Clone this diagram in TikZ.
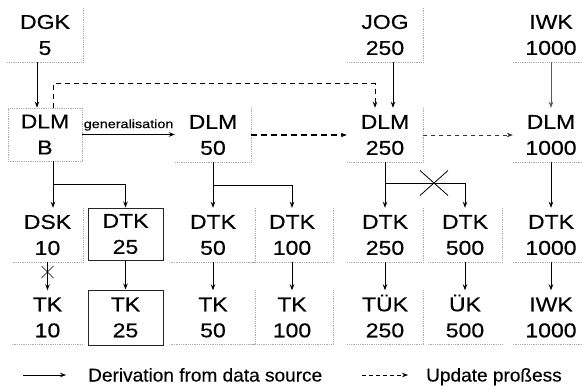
\documentclass[tikz,border=0pt]{standalone}
\usepackage{fontspec}
\setmainfont{Liberation Sans}
\newfontfamily\boxfont[FakeStretch=1.15,FakeBold=0.4]{Liberation Sans}
\newfontfamily\legfont[FakeStretch=1.03,FakeBold=0.3]{Liberation Sans}
\newfontfamily\genfont[FakeStretch=1.2,FakeBold=0.4]{Liberation Sans}
\usetikzlibrary{arrows.meta,calc}
\tikzset{
  cell/.style={minimum width=#1, minimum height=54pt, inner sep=0pt, align=center,
    font=\boxfont\fontsize{20pt}{26pt}\selectfont},
  bord/.style={draw=gray!65, line width=0.8pt, densely dotted},
  solidbox/.style={draw=black!85, line width=1pt},
  ln/.style={line width=0.9pt, draw=black},
  arr/.style={ln, -{Stealth[length=6pt,width=4.5pt]}},
  upd/.style={arr, dash pattern=on 5pt off 4pt},
  thickupd/.style={arr, line width=1.6pt, dash pattern=on 6pt off 4pt},
  thinupd/.style={arr, line width=0.7pt, draw=black!80, dash pattern=on 4pt off 4pt},
  lightarr/.style={arr, line width=0.6pt, draw=gray!70!black},
  cross/.style={line width=0.8pt, draw=black},
  legtext/.style={font=\legfont\fontsize{18.5pt}{22pt}\selectfont, inner sep=0pt},
}
\newcommand\rbord[1]{\draw[bord] (#1.north east) -- (#1.south east) -- (#1.south west);}
\newcommand\bbord[1]{\draw[bord] (#1.south west) -- (#1.south east);}
\begin{document}
\begin{tikzpicture}[x=1pt,y=-1pt]
\fill[white] (0,0) rectangle (582,386);
\useasboundingbox (0,0) rectangle (582,386);

% Row 1
\node[cell=76] (dgk) at (45,35) {DGK\\5};
\node[cell=76] (jog) at (385,35) {JOG\\250};
\node[cell=76] (iwka) at (551,35) {IWK\\1000};
\rbord{dgk}\rbord{jog}\bbord{iwka}

% Row 2
\node[cell=74, minimum height=53pt, bord] (dlmb) at (45,134.5) {DLM\\B};
\node[cell=76] (dlm50) at (213,135) {DLM\\50};
\node[cell=76] (dlm250) at (385,135) {DLM\\250};
\node[cell=76] (dlm1000) at (551,135) {DLM\\1000};
\rbord{dlm50}\rbord{dlm250}\bbord{dlm1000}

% Row 3
\node[cell=71] (dsk) at (47.5,235) {DSK\\10};
\node[cell=75, minimum height=52pt, solidbox] (dtk25) at (125.5,234) {DTK\\25};
\node[cell=84] (dtk50) at (213,235) {DTK\\50};
\node[cell=82] (dtk100) at (292,235) {DTK\\100};
\node[cell=76] (dtk250) at (385,235) {DTK\\250};
\node[cell=74] (dtk500) at (465,235) {DTK\\500};
\node[cell=76] (dtk1000) at (551,235) {DTK\\1000};
\rbord{dsk}\rbord{dtk50}\rbord{dtk100}\rbord{dtk250}\rbord{dtk500}\bbord{dtk1000}

% Row 4
\node[cell=71] (tk10) at (47.5,317.5) {TK\\10};
\node[cell=75, minimum height=55pt, solidbox] (tk25) at (125.5,317.5) {TK\\25};
\node[cell=84] (tk50) at (213,317.5) {TK\\50};
\node[cell=82] (tk100) at (292,317.5) {TK\\100};
\node[cell=76] (tuk) at (385,317.5) {T\smash{Ü}K\\250};
\node[cell=74] (uk) at (465,317.5) {\smash{Ü}K\\500};
\node[cell=76] (iwkb) at (551,317.5) {IWK\\1000};
\bbord{tk10}\rbord{tk50}\rbord{tk100}\rbord{tuk}\bbord{uk}\bbord{iwkb}

% Row 1 -> Row 2
\draw[arr] ([xshift=-8pt]dgk.south) -- ([xshift=-8pt]dlmb.north);
\draw[arr] ([xshift=8pt]jog.south) -- ([xshift=8pt]dlm250.north);
\draw[lightarr] (iwka.south) -- (dlm1000.north);

% update from DLM B to DLM 250
\draw[upd] ([xshift=8pt]dlmb.north) -- ++(0,-24) -| ([xshift=-10pt]dlm250.north);

% Row 2 horizontal
\draw[arr] (dlmb.east) -- node[anchor=south, inner sep=3.5pt, font=\genfont\fontsize{12pt}{14pt}\selectfont] (genl) {generalisation} (dlmb.east -| dlm50.west);
\draw[thickupd] (dlm50.east) -- (dlm250.west);
\draw[thinupd] (dlm250.east) -- (dlm1000.west);

% Row 2 -> Row 3
\coordinate (bB) at ([xshift=8pt,yshift=-23.5pt]dlmb.south);
\draw[arr] ([xshift=8pt]dlmb.south) -- ([xshift=8pt]dlmb.south |- dsk.north);
\draw[arr] (bB) -| (dtk25.north);
\coordinate (b50) at ([yshift=-23pt]dlm50.south);
\draw[arr] (dlm50.south) -- (dtk50.north);
\draw[arr] (b50) -| (dtk100.north);
\coordinate (b250) at ([yshift=-21pt]dlm250.south);
\draw[arr] (dlm250.south) -- (dtk250.north);
\draw[arr] (b250) -| (dtk500.north);
\coordinate (xm) at (434,183);
\draw[cross] ($(xm)+(-14,-12.5)$) -- ($(xm)+(14,12.5)$);
\draw[cross] ($(xm)+(-14,12.5)$) -- ($(xm)+(14,-12.5)$);
\draw[arr] (dlm1000.south) -- (dtk1000.north);

% Row 3 -> Row 4
\draw[arr] (dsk.south) -- (tk10.north);
\coordinate (xs) at ($(dsk.south)!0.35!(tk10.north)$);
\draw[cross, line width=0.6pt] ($(xs)+(-6,-6)$) -- ($(xs)+(6,6)$);
\draw[cross, line width=0.6pt] ($(xs)+(-6,6)$) -- ($(xs)+(6,-6)$);
\draw[arr] (dtk25.south) -- (tk25.north);
\draw[arr] (dtk50.south) -- (tk50.north);
\draw[arr] (dtk100.south) -- (tk100.north);
\draw[arr] (dtk250.south) -- (tuk.north);
\draw[arr] (dtk500.south) -- (uk.north);
\draw[arr] (dtk1000.south) -- (iwkb.north);

% Legend
\coordinate (l1a) at (23,375);
\coordinate (l1b) at (66,375);
\draw[arr, line width=0.7pt] (l1a) -- (l1b);
\node[legtext, anchor=base west] (l1t) at (88,381.5) {Derivation from data source};
\coordinate (l2a) at (362,375);
\coordinate (l2b) at (408,375);
\draw[upd, line width=0.7pt, dash pattern=on 4pt off 3pt] (l2a) -- (l2b);
\node[legtext, anchor=base west] (l2t) at (426,381.5) {Update proßess};
\end{tikzpicture}
\end{document}
